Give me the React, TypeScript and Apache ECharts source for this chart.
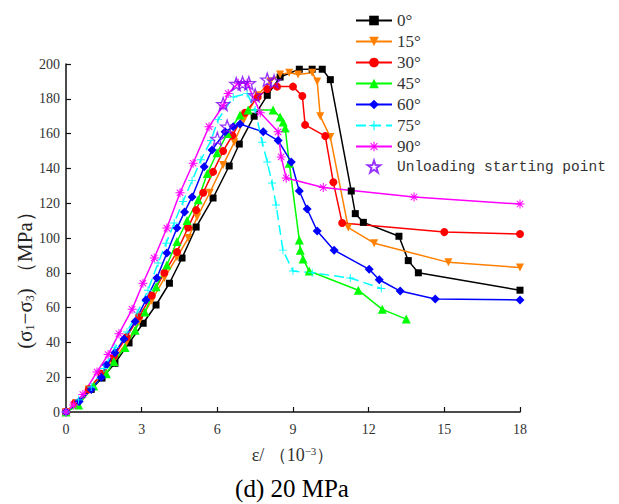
import React, { useEffect, useRef } from "react";
import * as echarts from "echarts";

const legendNames = ["0°", "15°", "30°", "45°", "60°", "75°", "90°", "Unloading starting point"];
const xTicks = { min: 0, max: 18, interval: 3 };
const yTicks = { min: 0, max: 200, interval: 20 };

const s0: number[][] = [
  [0, 0], [0.44, 5], [1.0, 13], [1.43, 19.5], [1.94, 28], [2.5, 39.7], [3.06, 51], [3.57, 61.5],
  [4.1, 74], [4.6, 88.5], [5.16, 106.3], [5.83, 123], [6.47, 141.4], [6.87, 154], [7.46, 170],
  [7.98, 182], [8.49, 192.5], [9.25, 197], [9.76, 197], [10.16, 197], [10.48, 191], [11.31, 127],
  [11.47, 114], [11.79, 109], [13.2, 101], [13.57, 87], [13.97, 80], [18, 70],
];
const s15: number[][] = [
  [0, 0], [0.4, 5], [0.9, 13], [1.4, 21], [1.9, 30], [2.4, 40], [2.9, 52], [3.4, 64], [3.9, 77],
  [4.4, 89], [4.85, 100], [5.2, 112], [5.7, 126], [6.23, 142], [6.67, 155], [7.05, 168], [7.6, 182],
  [8.1, 190], [8.49, 194], [8.85, 195], [9.2, 194], [9.76, 195], [9.96, 190], [10.08, 170],
  [10.48, 158], [11.19, 106], [12.22, 97], [15.16, 86], [18, 83],
];
const s30: number[][] = [
  [0, 0], [0.35, 5], [0.9, 13], [1.4, 22], [1.9, 32], [2.4, 43], [2.9, 55], [3.4, 67], [3.9, 80],
  [4.4, 92], [4.84, 106], [5.16, 116], [5.44, 126], [5.83, 138], [6.23, 150], [6.6, 159],
  [7.1, 172], [7.6, 181], [7.98, 185.6], [8.37, 187], [9.0, 187], [9.37, 181.6], [9.48, 165],
  [10.28, 158.6], [10.6, 132], [10.95, 108.6], [15.0, 103.4], [18, 102.3],
];
const s45: number[][] = [
  [0, 0], [0.5, 4], [1.1, 15], [1.6, 22], [1.9, 29], [2.34, 37], [2.74, 47], [3.13, 57.5],
  [3.57, 72], [4.0, 84.5], [4.4, 98], [4.8, 110], [5.24, 122], [5.6, 137], [5.99, 149], [6.4, 160],
  [6.9, 170.7], [7.22, 173.6], [8.21, 173.6], [8.49, 169.5], [8.61, 166.7], [8.69, 163.2],
  [8.85, 143], [9.25, 98.9], [9.29, 93], [9.4, 88], [9.64, 81], [11.59, 70], [12.54, 59], [13.49, 53.4],
];
const s60: number[][] = [
  [0, 0], [0.52, 6], [1.0, 13], [1.4, 20], [1.6, 27], [1.94, 34], [2.3, 42], [2.74, 52],
  [3.17, 64.4], [3.6, 77], [4.0, 91.4], [4.4, 105.7], [4.7, 115], [5.0, 123.6], [5.48, 141],
  [5.79, 150.6], [6.31, 161], [6.63, 164], [6.9, 165.5], [7.82, 161], [8.41, 156], [8.93, 143.7],
  [9.25, 127], [9.56, 116.7], [9.96, 104], [10.63, 93], [12.02, 82], [12.42, 76], [13.25, 69.5],
  [14.64, 65], [18, 64.4],
];
const s75: number[][] = [
  [0, 0], [0.5, 7], [1.0, 14.4], [1.5, 25], [1.94, 37], [2.42, 46], [2.82, 57], [3.25, 70],
  [3.65, 85.6], [3.97, 97], [4.29, 108.6], [4.64, 121], [5.0, 133], [5.35, 145], [5.75, 156],
  [6.03, 168], [6.63, 181], [7.18, 183], [7.5, 173.6], [7.78, 155], [7.98, 143.7], [8.17, 131.6],
  [8.33, 119], [8.6, 93], [9.0, 81], [9.76, 80], [11.27, 77], [12.5, 71],
];
const s90: number[][] = [
  [0, 0], [0.3, 4], [0.67, 10], [1.23, 23], [1.67, 33], [2.1, 45], [2.62, 59], [3.05, 74],
  [3.5, 88.5], [4.0, 105.7], [4.52, 126], [5.04, 143], [5.67, 164], [6.23, 176], [6.43, 183],
  [6.83, 189], [7.18, 189], [7.7, 172], [8.41, 161], [8.53, 146.6], [8.73, 134.5], [10.2, 129],
  [13.8, 123.6], [18, 119.5],
];
const unloadPts: number[][] = [
  [6.0, 157], [6.39, 164], [6.23, 177], [6.75, 188.5], [7.0, 189], [7.25, 189], [7.5, 182],
  [7.98, 191], [8.25, 190],
];

const colors = ["#000000", "#FF8000", "#FF0000", "#00FF00", "#0000FF", "#00FFFF", "#FF00FF", "#8000FF"];

const PLUS = "path://M9,1 L11,1 L11,19 L9,19 Z M1,9 L19,9 L19,11 L1,11 Z";
const ASTER =
  "path://M9,1 L11,1 L11,19 L9,19 Z M1,9 L19,9 L19,11 L1,11 Z M4.3,2.9 L17.1,15.7 L15.7,17.1 L2.9,4.3 Z M15.7,2.9 L17.1,4.3 L4.3,17.1 L2.9,15.7 Z";
const STAR =
  "path://M10,0 L12.35,6.76 L19.51,6.91 L13.8,11.24 L15.88,18.09 L10,14 L4.12,18.09 L6.2,11.24 L0.49,6.91 L7.65,6.76 Z";

const SERIF = "Liberation Serif";

export default function App() {
  const ref = useRef<HTMLDivElement>(null);
  useEffect(() => {
    if (!ref.current) return;
    const chart = echarts.init(ref.current, undefined, { renderer: "svg" });
    const mk = (i: number, data: number[][], symbol: string, size: number, extra: any = {}) => ({
      name: legendNames[i],
      type: "line",
      data,
      symbol,
      symbolSize: size,
      showSymbol: true,
      color: colors[i],
      lineStyle: { width: 1.5, color: colors[i], ...(extra.lineStyle || {}) },
      itemStyle: { color: colors[i] },
      z: 2,
      ...(extra.rest || {}),
    });
    chart.setOption({
      animation: false,
      backgroundColor: "#ffffff",
      textStyle: { fontFamily: SERIF },
      grid: { left: 66, right: 99, top: 64, bottom: 92, containLabel: false },
      legend: {
        orient: "vertical",
        left: 350,
        top: 7,
        itemWidth: 36,
        itemHeight: 12,
        itemGap: 4,
        textStyle: { fontFamily: SERIF, fontSize: 17, color: "#333" },
        data: legendNames.map((n, i) =>
          i === 7
            ? { name: n, textStyle: { fontFamily: "Liberation Mono", fontSize: 14.5, color: "#333" } }
            : { name: n }
        ),
      },
      xAxis: {
        type: "value",
        min: xTicks.min,
        max: xTicks.max,
        interval: xTicks.interval,
        splitLine: { show: false },
        axisLine: { lineStyle: { color: "#111", width: 1.5 } },
        axisTick: { inside: true, length: 5, lineStyle: { color: "#111", width: 1.2 } },
        axisLabel: { fontFamily: SERIF, fontSize: 14, color: "#333", margin: 10 },
      },
      yAxis: {
        type: "value",
        min: yTicks.min,
        max: yTicks.max,
        interval: yTicks.interval,
        splitLine: { show: false },
        axisLine: { show: true, lineStyle: { color: "#111", width: 1.5 } },
        axisTick: { show: true, inside: true, length: 5, lineStyle: { color: "#111", width: 1.2 } },
        axisLabel: { fontFamily: SERIF, fontSize: 14, color: "#333", margin: 6 },
      },
      graphic: [
        {
          type: "text",
          x: 25,
          y: 275,
          rotation: Math.PI / 2,
          style: {
            text: "(σ{sub|1}−σ{sub|3}) （MPa）",
            fontFamily: SERIF,
            fontSize: 21,
            fill: "#222",
            align: "center",
            verticalAlign: "middle",
            rich: {
              sub: { fontSize: 12, fontFamily: SERIF, verticalAlign: "bottom", padding: [9, 0, 0, 0], fill: "#222" },
            },
          },
        },
        {
          type: "text",
          x: 293,
          y: 455,
          style: {
            text: "ε/ （10{sup|−3}）",
            fontFamily: SERIF,
            fontSize: 18,
            fill: "#333",
            align: "center",
            verticalAlign: "middle",
            rich: {
              sup: { fontSize: 11, fontFamily: SERIF, verticalAlign: "top", padding: [0, 0, 8, 0], fill: "#333" },
            },
          },
        },
        {
          type: "text",
          x: 292,
          y: 488,
          style: {
            text: "(d) 20 MPa",
            fontFamily: SERIF,
            fontSize: 25,
            fill: "#000",
            align: "center",
            verticalAlign: "middle",
          },
        },
      ],
      series: [
        mk(0, s0, "rect", 7),
        mk(1, s15, "triangle", 8, { rest: { symbolRotate: 180 } }),
        mk(2, s30, "circle", 8),
        mk(3, s45, "triangle", 9),
        mk(4, s60, "diamond", 9),
        mk(5, s75, PLUS, 8, { lineStyle: { type: [10, 5] } }),
        mk(6, s90, ASTER, 9),
        {
          name: legendNames[7],
          type: "scatter",
          data: unloadPts,
          symbol: STAR,
          symbolSize: 13,
          itemStyle: { color: "rgba(255,255,255,0)", borderColor: colors[7], borderWidth: 1.3 },
          z: 5,
        },
      ],
    });
    return () => chart.dispose();
  }, []);
  return <div ref={ref} style={{ width: 619, height: 504, marginLeft: -8, marginTop: -8 }} />;
}
